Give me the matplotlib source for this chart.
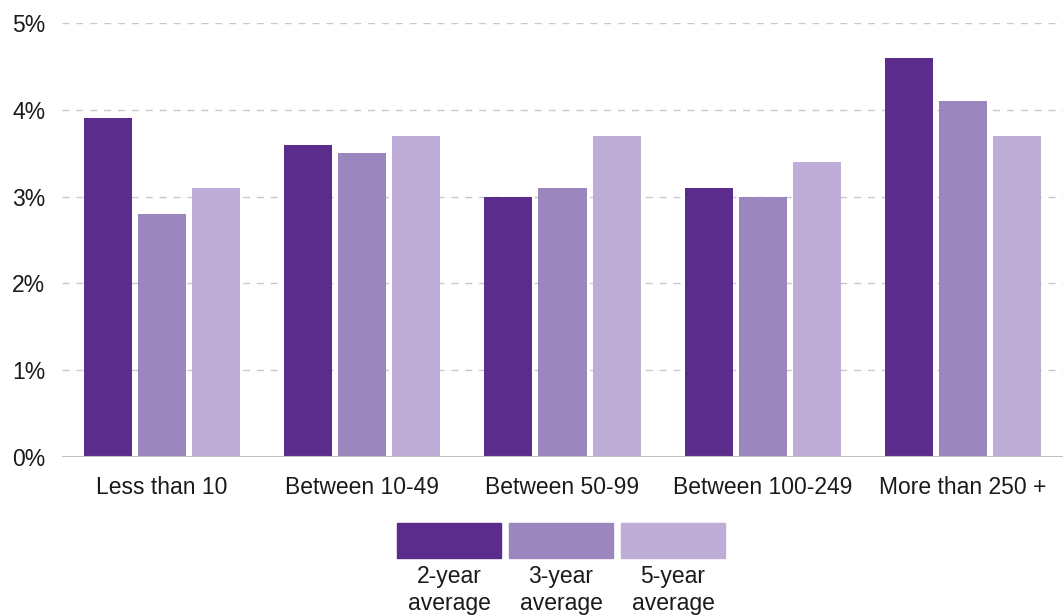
import numpy as np
import matplotlib.pyplot as plt
from matplotlib.patches import Rectangle

plt.rcParams['font.family'] = ['Liberation Sans', 'DejaVu Sans']

categories = ['Less than 10', 'Between 10-49', 'Between 50-99', 'Between 100-249', 'More than 250 +']
series_names = ['2-year\naverage', '3-year\naverage', '5-year\naverage']
avg_2yr = [3.9, 3.6, 3.0, 3.1, 4.6]
avg_3yr = [2.8, 3.5, 3.1, 3.0, 4.1]
avg_5yr = [3.1, 3.7, 3.7, 3.4, 3.7]
colors = ['#5b2c8c', '#9b86bd', '#beadd6']

W, H = 1063, 616
fs = 16.5
fig = plt.figure(figsize=(W / 100, H / 100), dpi=100)
ax = fig.add_axes([62 / W, (H - 457) / H, 1 - 62 / W, (457 - 23) / H])

x = np.arange(len(categories))
bw = 0.24
step = 0.27
for i, vals in enumerate([avg_2yr, avg_3yr, avg_5yr]):
    ax.bar(x + (i - 1) * step, vals, width=bw, color=colors[i], zorder=3)

ax.set_xlim(-0.5, len(categories) - 0.5)
ax.set_ylim(0, 5)
ax.set_yticks(range(6))
ax.set_yticklabels([f'{v}%' for v in range(6)])
ax.set_xticks(x)
ax.set_xticklabels(categories)
ax.tick_params(axis='both', length=0, labelsize=fs, colors='#1a1a1a')
ax.tick_params(axis='y', pad=12)
ax.tick_params(axis='x', pad=14)

for v in range(1, 6):
    ax.axhline(v, color='#c8c8c8', lw=1, ls=(0, (5, 5)), zorder=1)
ax.axhline(0, color='#c0c0c0', lw=1.5, zorder=4)
for s in ax.spines.values():
    s.set_visible(False)

# legend: big swatches with the label underneath
for i, name in enumerate(series_names):
    left = 397 + i * 112
    fig.add_artist(Rectangle((left / W, (H - 558) / H), 104 / W, 35 / H,
                             transform=fig.transFigure, color=colors[i]))
    fig.text((left + 52) / W, (H - 565) / H, name, ha='center', va='top',
             fontsize=fs, color='#1a1a1a', linespacing=1.22)

fig.savefig('out.png', dpi=100)
